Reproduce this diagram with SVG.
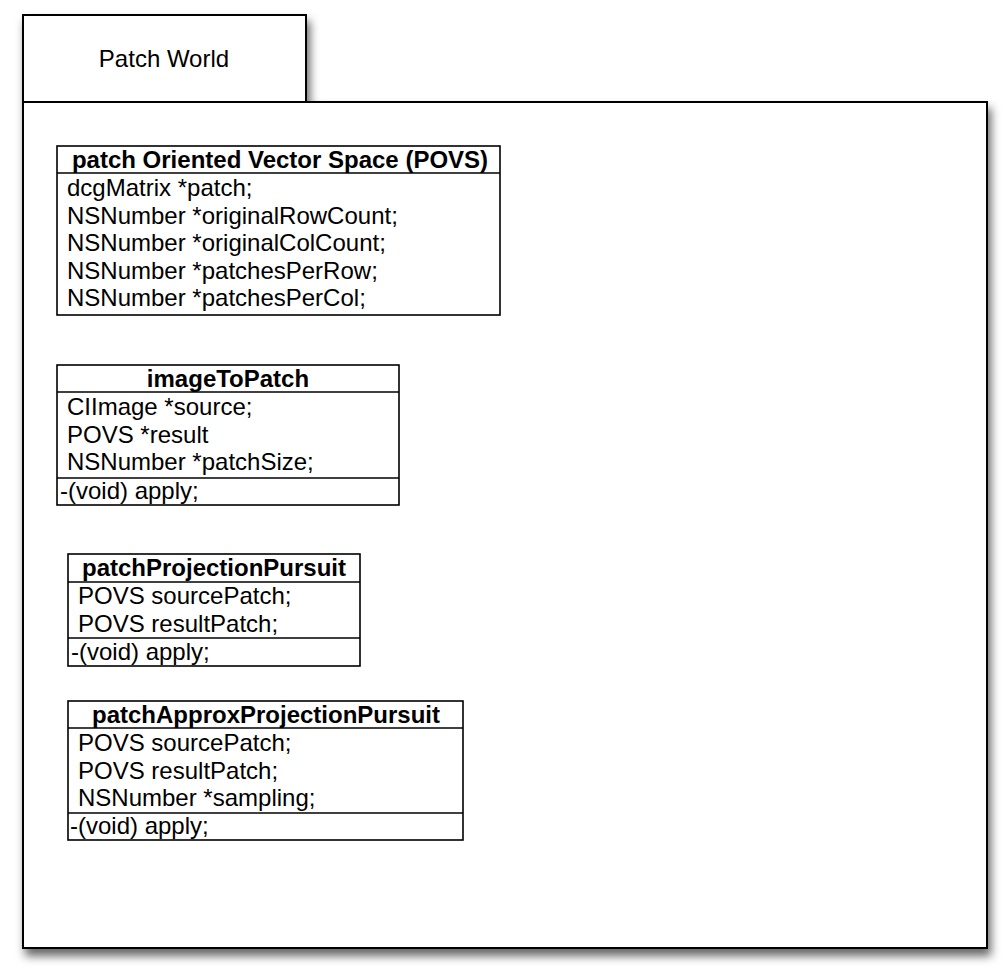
<svg xmlns="http://www.w3.org/2000/svg" width="1008" height="978" viewBox="0 0 1008 978">
<defs>
<filter id="sh" x="-5%" y="-5%" width="115%" height="120%">
<feDropShadow dx="3" dy="7" stdDeviation="5" flood-color="#000" flood-opacity="0.6"/>
</filter>
<style>
.pkg{fill:#fff;stroke:#000;stroke-width:2}
.box{fill:#fff;stroke:#000;stroke-width:1.6}
.div{stroke:#000;stroke-width:1.6}
.t{font-family:"Liberation Sans",Arial,sans-serif;font-size:24px;fill:#000}
.h{font-family:"Liberation Sans",Arial,sans-serif;font-size:24px;font-weight:bold;fill:#000;text-anchor:middle}
</style>
</defs>
<rect width="1008" height="978" fill="#fff"/>
<g id="package">
<g filter="url(#sh)">
<rect class="pkg" x="23" y="15" width="283" height="87"/>
<rect class="pkg" x="23" y="102" width="964" height="846"/>
</g>
<text class="t" x="164" y="67" text-anchor="middle">Patch World</text>
</g>
<g id="povs">
<rect class="box" x="57" y="146" width="443" height="169"/>
<line class="div" x1="57" y1="173" x2="500" y2="173"/>
<text class="h" x="280" y="168">patch Oriented Vector Space (POVS)</text>
<text class="t" x="67" y="196">dcgMatrix *patch;</text>
<text class="t" x="67" y="223.5">NSNumber *originalRowCount;</text>
<text class="t" x="67" y="251">NSNumber *originalColCount;</text>
<text class="t" x="67" y="278.5">NSNumber *patchesPerRow;</text>
<text class="t" x="67" y="306">NSNumber *patchesPerCol;</text>
</g>
<g id="imageToPatch">
<rect class="box" x="57" y="365" width="342" height="140"/>
<line class="div" x1="57" y1="392" x2="399" y2="392"/>
<line class="div" x1="57" y1="478" x2="399" y2="478"/>
<text class="h" x="228" y="387">imageToPatch</text>
<text class="t" x="67" y="415">CIImage *source;</text>
<text class="t" x="67" y="442.5">POVS *result</text>
<text class="t" x="67" y="470">NSNumber *patchSize;</text>
<text class="t" x="60" y="499">-(void) apply;</text>
</g>
<g id="patchProjectionPursuit">
<rect class="box" x="68" y="554" width="292" height="112"/>
<line class="div" x1="68" y1="582" x2="360" y2="582"/>
<line class="div" x1="68" y1="638" x2="360" y2="638"/>
<text class="h" x="214" y="576">patchProjectionPursuit</text>
<text class="t" x="78" y="604">POVS sourcePatch;</text>
<text class="t" x="78" y="632">POVS resultPatch;</text>
<text class="t" x="71" y="660">-(void) apply;</text>
</g>
<g id="patchApproxProjectionPursuit">
<rect class="box" x="68" y="701" width="395" height="139"/>
<line class="div" x1="68" y1="728" x2="463" y2="728"/>
<line class="div" x1="68" y1="813" x2="463" y2="813"/>
<text class="h" x="266" y="723">patchApproxProjectionPursuit</text>
<text class="t" x="78" y="751">POVS sourcePatch;</text>
<text class="t" x="78" y="778.5">POVS resultPatch;</text>
<text class="t" x="78" y="806">NSNumber *sampling;</text>
<text class="t" x="70" y="834">-(void) apply;</text>
</g>
<g id="connectors"/>
</svg>
